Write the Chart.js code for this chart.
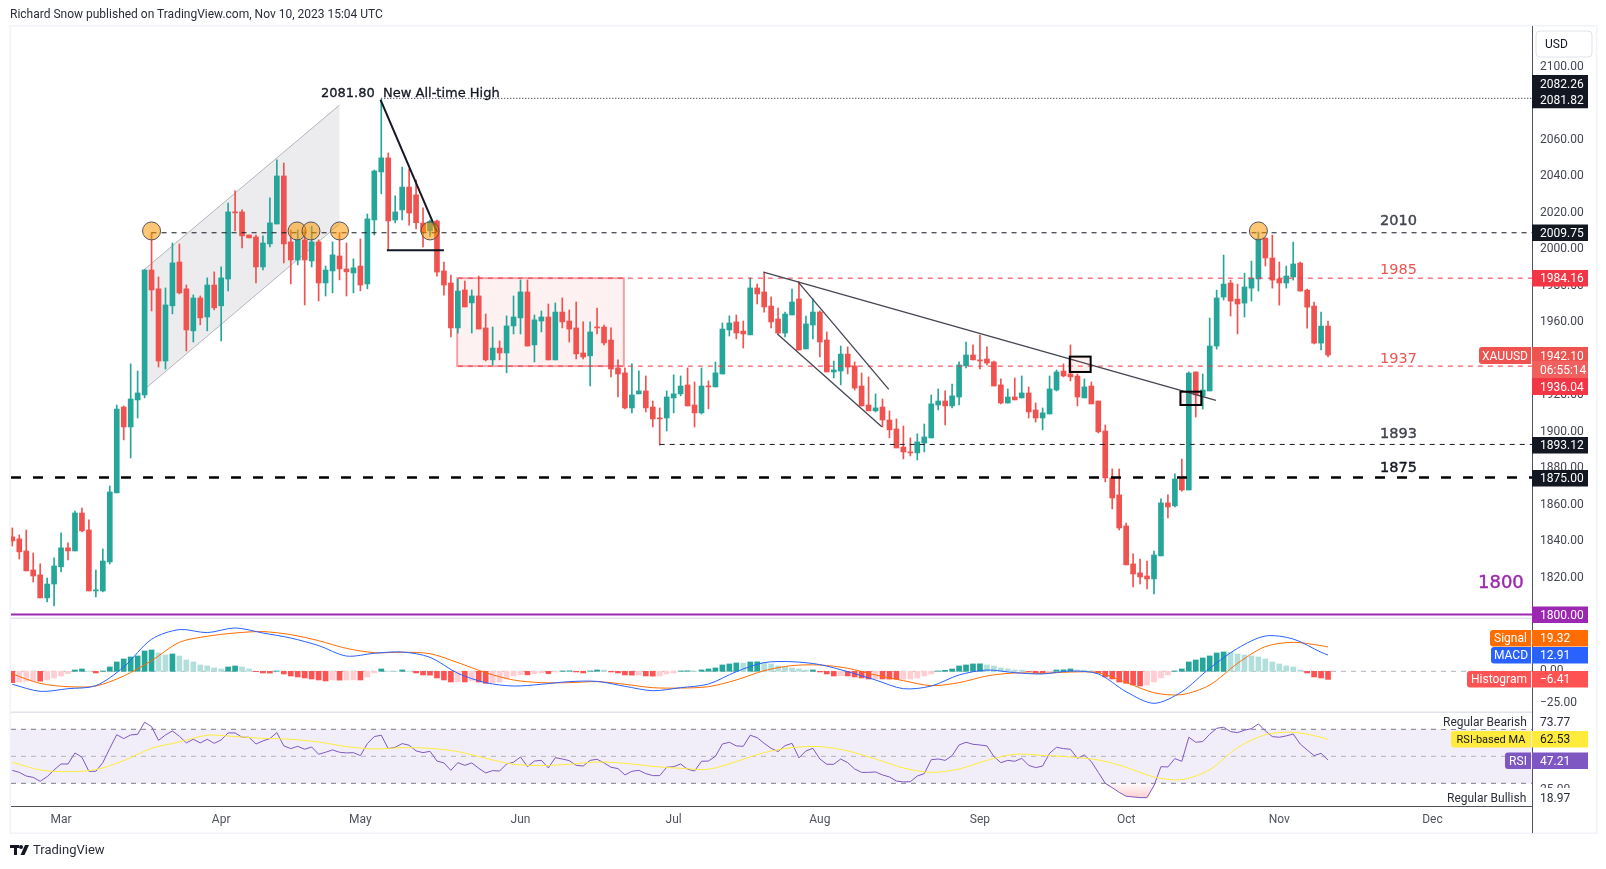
<!DOCTYPE html>
<html>
<head>
<meta charset="utf-8">
<title>XAUUSD</title>
<script src="https://cdn.jsdelivr.net/npm/chart.js@4"></script>
<style>
  html, body { margin: 0; background: #fff; }
  #wrap { position: relative; width: 1606px; height: 869px; overflow: hidden; }
  canvas { position: absolute; left: 0; top: 0; }
  #byline { position: absolute; left: 10px; top: 7px; font: 12px Roboto, sans-serif; color: #2a2e39; white-space: nowrap; }
  #brand { position: absolute; left: 33px; top: 842px; font: 13px Roboto, sans-serif; color: #2a2e39; }
</style>
</head>
<body>
<div id="wrap">
  <canvas id="chart" width="1606" height="869"></canvas>
  <div id="byline">Richard Snow published on TradingView.com, Nov 10, 2023 15:04 UTC</div>
  <div id="brand">TradingView</div>
</div>
<script>
// daily candles
const open = [
  1842.5,1841.4,1834.8,1824.4,1821.7,1809.1,1816.7,1826.1,1836.5,1834.8,
  1855.6,1846.3,1812.9,1812.9,1828.8,1866.6,1913.6,1902.7,1917.5,1920.2,
  1988.6,1978.3,1938.8,1969.0,1993.0,1978.3,1955.3,1973.3,1962.9,1980.4,
  1969.0,1983.7,2020.4,2020.4,2007.8,2006.7,1990.3,2002.9,2013.8,2040.1,
  2004.0,1994.1,2005.1,1993.6,2004.0,1981.5,1988.1,1996.3,1989.2,1987.0,
  1990.8,1981.0,2016.0,2042.3,2050.0,2016.0,2021.5,2034.0,2029.7,2014.3,
  2010.1,2015.4,1988.1,1981.5,1956.9,1977.7,1970.6,1974.4,1956.9,1939.4,
  1945.9,1943.2,1958.0,1962.4,1976.6,1947.6,1960.7,1962.9,1939.4,1965.6,
  1960.7,1956.9,1943.2,1941.6,1957.4,1957.4,1950.3,1935.0,1932.3,1913.1,
  1920.8,1922.4,1913.6,1907.6,1907.6,1918.6,1920.8,1925.7,1914.7,1910.4,
  1925.1,1924.6,1931.7,1955.8,1960.2,1955.2,1953.1,1978.8,1976.6,1968.9,
  1961.8,1954.1,1964.0,1972.8,1945.4,1958.5,1965.6,1950.3,1932.8,1933.3,
  1942.6,1936.1,1925.1,1914.7,1911.5,1913.6,1906.5,1901.6,1891.7,1889.0,
  1888.5,1893.9,1896.7,1914.7,1916.9,1914.2,1919.1,1936.1,1942.1,1939.4,
  1939.9,1938.3,1925.7,1915.8,1919.1,1918.6,1921.3,1912.0,1907.6,1909.8,
  1922.9,1933.3,1931.7,1930.6,1918.6,1925.1,1916.9,1900.5,1874.8,1865.5,
  1848.5,1827.7,1822.8,1821.1,1819.5,1832.1,1861.1,1859.5,1874.2,1868.2,
  1932.8,1919.6,1922.4,1947.0,1973.8,1981.5,1972.7,1970.5,1978.7,1983.7,
  2006.1,1995.2,1983.7,1981.5,1984.8,1992.4,1977.6,1968.9,1948.6,1957.9
];
const high = [
  1847.4,1843.6,1846.3,1833.7,1827.7,1820.0,1831.0,1844.7,1839.2,1856.7,
  1858.3,1851.8,1824.4,1835.9,1870.4,1914.7,1914.2,1937.2,1933.3,1989.0,
  2009.1,1984.8,1978.8,2003.4,2002.9,1980.4,1975.0,1974.4,1984.3,1987.6,
  1990.3,2025.3,2031.9,2021.5,2007.8,2007.8,2007.3,2028.1,2048.9,2047.2,
  2010.6,2010.6,2010.6,2012.4,2005.1,1990.8,2004.0,2009.1,2003.4,1994.7,
  2005.6,2019.3,2043.4,2082.1,2052.7,2029.2,2045.0,2043.9,2037.9,2022.6,
  2016.0,2016.0,1993.0,1985.9,1983.7,1982.6,1977.7,1985.3,1964.5,1957.4,
  1949.8,1963.5,1974.4,1983.2,1983.2,1964.0,1966.2,1970.0,1970.6,1973.3,
  1966.7,1971.1,1960.2,1960.2,1967.8,1958.5,1956.9,1939.4,1935.0,1937.2,
  1933.4,1930.6,1916.9,1913.1,1922.4,1931.2,1930.6,1935.0,1927.3,1935.0,
  1927.9,1938.3,1959.6,1963.5,1964.0,1960.7,1984.3,1981.0,1987.5,1973.9,
  1967.8,1965.6,1978.2,1982.1,1963.4,1972.8,1966.2,1954.7,1938.8,1947.0,
  1946.5,1938.3,1932.2,1930.1,1920.8,1918.0,1911.5,1907.1,1903.2,1896.7,
  1898.9,1904.3,1920.2,1923.5,1922.4,1926.2,1938.3,1949.2,1947.6,1953.0,
  1946.5,1938.8,1929.0,1923.5,1929.5,1930.6,1924.6,1915.8,1913.1,1930.6,
  1933.9,1937.2,1947.6,1931.7,1929.0,1927.3,1916.9,1903.8,1879.7,1879.7,
  1850.1,1833.2,1830.4,1829.3,1834.8,1863.3,1865.5,1877.0,1885.1,1932.8,
  1932.8,1931.7,1962.3,1977.6,1996.8,1983.1,1980.9,1986.9,1993.5,2009.4,
  2006.1,2007.7,1993.0,1990.8,2003.9,1993.0,1978.2,1971.1,1965.6,1960.7
];
const low = [
  1837.5,1830.4,1823.9,1817.8,1809.1,1806.9,1804.7,1823.3,1829.9,1834.8,
  1845.2,1812.9,1809.6,1812.4,1827.7,1866.6,1895.6,1885.7,1907.6,1918.6,
  1966.2,1935.5,1934.4,1964.6,1975.5,1944.3,1949.2,1958.6,1955.3,1966.8,
  1949.8,1977.2,2010.0,2000.7,2006.2,1981.5,1988.6,2001.2,2013.8,1992.5,
  1981.0,1991.4,1969.5,1990.3,1971.7,1974.4,1976.1,1983.2,1974.4,1976.1,
  1977.2,1978.3,2007.8,2030.3,1999.6,2014.4,2016.0,2013.2,2011.1,2001.2,
  2007.2,1985.3,1974.9,1952.0,1954.1,1968.4,1954.1,1956.3,1938.8,1936.6,
  1939.4,1932.3,1953.6,1953.6,1947.0,1938.3,1954.7,1939.4,1939.4,1956.9,
  1949.2,1939.9,1939.9,1925.1,1953.6,1947.6,1930.1,1919.1,1912.6,1910.4,
  1920.8,1910.9,1902.7,1892.7,1900.5,1910.4,1919.7,1914.2,1902.7,1909.8,
  1912.6,1924.6,1931.7,1952.5,1950.9,1945.9,1953.1,1970.0,1965.6,1956.9,
  1953.6,1952.0,1964.0,1944.8,1945.4,1950.9,1941.0,1932.8,1929.5,1925.7,
  1931.7,1922.9,1914.2,1911.5,1910.9,1902.7,1896.7,1891.2,1885.2,1886.8,
  1884.6,1889.0,1896.7,1912.0,1903.8,1913.1,1914.7,1935.0,1939.4,1934.4,
  1936.6,1925.1,1915.3,1915.8,1917.5,1918.6,1907.6,1905.4,1901.1,1909.8,
  1922.4,1930.1,1927.9,1914.2,1918.6,1915.3,1899.4,1872.6,1857.8,1846.3,
  1827.2,1815.1,1816.8,1814.0,1811.3,1832.1,1852.9,1858.9,1867.6,1868.2,
  1908.1,1912.5,1922.4,1945.3,1972.2,1963.4,1953.6,1962.9,1971.6,1977.1,
  1990.8,1978.7,1969.4,1978.7,1983.1,1977.1,1956.8,1948.1,1944.8,1941.0
];
const close = [
  1840.3,1834.3,1823.9,1821.1,1809.1,1816.7,1826.6,1836.5,1834.8,1855.6,
  1845.8,1812.9,1813.5,1829.3,1867.1,1912.5,1902.7,1918.0,1921.3,1988.6,
  1977.7,1938.8,1969.5,1992.5,1976.1,1955.8,1973.3,1962.4,1980.4,1967.9,
  1984.3,2020.4,2019.9,2007.3,2006.2,1990.3,2003.4,2014.4,2040.1,2002.9,
  1994.1,2005.1,1994.1,2004.0,1981.5,1988.6,1996.9,1989.2,1987.6,1989.8,
  1980.4,2016.6,2042.8,2050.0,2015.5,2020.4,2034.0,2019.8,2014.5,2009.4,
  2015.1,1987.5,1980.4,1956.9,1977.1,1968.4,1974.4,1956.3,1939.4,1945.9,
  1943.2,1958.0,1962.9,1976.6,1947.0,1961.3,1962.9,1939.4,1965.6,1960.2,
  1956.3,1942.7,1941.0,1954.7,1956.9,1948.7,1934.4,1931.7,1913.1,1920.2,
  1922.4,1913.1,1907.1,1907.1,1919.1,1920.8,1925.1,1914.2,1910.4,1925.1,
  1924.6,1932.3,1956.3,1959.6,1954.1,1953.6,1978.8,1975.5,1968.4,1960.2,
  1954.1,1964.5,1971.1,1944.8,1959.1,1965.6,1949.2,1932.8,1933.9,1942.6,
  1935.5,1924.0,1914.2,1911.5,1913.1,1906.5,1901.1,1891.2,1889.0,1888.5,
  1894.5,1897.2,1915.3,1916.9,1914.2,1919.7,1936.6,1942.1,1939.4,1938.8,
  1937.7,1925.1,1915.8,1919.1,1917.5,1921.3,1910.9,1907.6,1910.4,1923.5,
  1932.8,1930.6,1930.1,1919.1,1924.6,1915.3,1900.0,1874.8,1863.8,1847.4,
  1827.2,1822.2,1820.6,1819.5,1832.6,1861.1,1858.9,1874.2,1868.2,1932.2,
  1920.2,1922.9,1947.0,1973.3,1980.9,1971.6,1970.0,1979.3,1984.2,2005.6,
  1995.2,1983.1,1981.5,1985.3,1991.9,1977.1,1968.3,1948.6,1957.9,1942.1
];

const histogram = [
  -9.00,-8.47,-7.94,-7.67,-7.81,-6.88,-5.29,-3.70,-1.85,1.06,
  1.85,0.13,-1.32,0.26,3.44,7.41,9.79,11.38,12.17,16.14,
  16.93,14.55,12.97,13.76,12.17,9.00,7.41,5.03,4.23,2.65,
  1.85,3.44,4.23,3.44,1.85,-0.26,-1.32,-1.46,0.26,-2.12,
  -3.70,-4.50,-5.29,-6.09,-6.88,-7.67,-6.88,-7.01,-6.88,-6.83,
  -6.88,-4.50,-1.32,1.85,0.13,0.08,1.06,0.13,-1.32,-2.91,
  -3.04,-5.29,-6.88,-8.47,-8.33,-8.47,-7.67,-8.47,-9.53,-9.26,
  -8.47,-6.09,-3.70,-2.65,-2.78,-1.85,-1.32,-1.85,-0.53,0.26,
  0.40,-0.53,-1.32,0.26,1.06,0.93,-0.53,-1.32,-2.91,-3.04,
  -2.91,-3.70,-3.84,-3.70,-2.12,-1.32,0.26,0.40,0.13,1.06,
  1.85,2.65,5.03,5.82,6.62,6.48,7.41,7.54,6.62,5.82,
  4.23,3.44,2.65,1.85,0.93,1.06,-0.53,-2.12,-3.70,-3.57,
  -3.70,-4.50,-5.29,-6.09,-5.95,-6.09,-6.22,-6.35,-6.22,-6.09,
  -5.29,-3.70,-2.12,0.26,0.79,1.85,4.23,5.03,5.82,5.95,
  5.03,4.23,2.65,1.85,1.06,0.93,-0.26,-1.32,-1.46,-1.06,
  1.06,1.19,1.85,1.06,0.93,0.26,-1.32,-4.50,-6.09,-8.47,
  -9.53,-10.85,-11.64,-10.85,-8.47,-5.29,-2.91,0.26,1.85,7.41,
  9.00,10.58,12.17,14.55,15.35,15.08,13.76,12.97,12.17,11.38,
  9.79,7.41,5.82,4.23,3.44,1.06,-1.32,-4.50,-5.29,-6.41
];

// the smooth lines are read every fourth candle
const lineDays = [
  0,4,8,12,16,20,24,28,32,36,40,44,48,52,56,60,64,68,72,76,80,84,88,92,96,
  100,104,108,112,116,120,124,128,132,136,140,144,148,152,156,160,164,168,172,176,180,184,188,189
];
const macdLine = [
  -10.3,-15.9,-13.8,-11.4,3.4,25.4,33.1,30.7,34.4,30.4,26.4,20.4,12.1,14.3,15.3,11.1,-1.6,-9.0,-11.7,-10.3,
  -8.2,-8.0,-11.9,-15.4,-13.0,-10.1,-0.3,6.9,7.6,5.3,-0.3,-6.9,-13.8,-11.7,-2.9,1.0,-1.1,-2.1,0.2,-2.1,
  -16.2,-25.4,-16.2,2.4,18.2,28.0,25.6,15.1,12.9
];
const signalLine = [
  -2.1,-9.6,-12.2,-11.7,-3.7,8.4,23.0,27.8,30.4,31.5,29.1,24.3,18.2,14.8,15.1,14.0,6.9,-1.1,-6.9,-9.0,
  -9.0,-8.2,-10.3,-13.0,-13.3,-12.2,-6.9,0.5,4.5,5.0,2.4,-2.9,-7.4,-11.4,-9.0,-3.7,-1.3,-1.6,-0.6,-1.1,
  -8.8,-17.0,-18.5,-10.9,6.3,19.6,23.0,20.4,19.3
];
const rsiAverage = [
  45.6,39.9,38.6,40.1,46.8,55.9,60.6,65.6,64.6,63.3,62.6,60.6,57.2,55.4,56.4,55.9,53.5,48.5,44.1,43.1,
  44.1,45.8,44.8,42.6,41.1,40.4,46.1,52.7,56.4,57.2,54.0,48.0,41.4,38.1,40.6,47.0,51.5,50.7,49.5,47.3,
  41.9,34.7,32.7,40.1,56.4,66.0,67.8,64.1,62.5
];
const rsi = [
  39.6,38.1,35.4,34.4,31.5,34.9,39.9,44.3,44.3,52.5,
  49.3,38.9,38.9,45.3,55.9,66.0,63.1,65.8,66.3,75.2,
  72.0,61.8,65.8,68.8,64.8,59.9,62.6,59.9,62.6,59.6,
  62.1,67.3,67.3,64.1,64.1,59.1,61.4,63.1,67.5,57.7,
  55.7,57.4,55.2,56.9,51.5,53.0,54.7,53.0,52.5,52.7,
  50.5,59.4,64.6,65.6,55.7,56.7,59.4,58.2,54.0,52.7,
  53.7,46.5,45.1,39.6,45.3,43.3,45.1,41.1,37.7,39.4,
  39.1,44.3,45.6,49.5,42.3,46.5,47.0,41.4,49.0,48.0,
  46.8,43.3,42.8,47.0,47.8,45.1,41.9,40.9,36.2,38.9,
  39.6,37.2,35.7,35.7,41.9,42.3,44.3,40.4,39.1,46.3,
  46.5,50.0,59.1,60.4,57.7,57.4,65.6,63.8,59.6,55.9,
  53.5,57.9,59.6,48.8,54.0,55.9,48.0,44.1,44.1,48.0,
  45.3,40.6,38.1,38.1,38.4,36.2,34.7,31.7,31.0,31.2,
  35.4,37.2,47.5,48.0,47.0,50.5,58.4,60.4,58.9,58.4,
  57.7,49.8,45.3,47.0,46.3,48.5,43.3,41.6,42.8,52.2,
  56.7,55.7,55.2,48.5,51.0,46.1,38.1,30.0,26.8,23.3,
  20.4,19.9,19.4,19.4,28.3,42.3,42.1,48.3,46.3,64.1,
  60.4,60.9,66.3,70.7,71.5,68.3,67.5,69.3,70.5,74.0,
  68.8,64.6,64.1,65.1,66.5,59.1,54.7,50.5,52.2,47.2
];

const priceTicks = [2100,2060,2040,2020,2000,1980,1960,1940,1920,1900,1880,1860,1840,1820];
const macdTicks = [0,-25];
const rsiTicks = [25];
const monthDays = [7,30,50,73,95,116,139,160,182,204];
const monthNames = ['Mar','Apr','May','Jun','Jul','Aug','Sep','Oct','Nov','Dec'];

// drawings on the price pane: candle position and price
const upTrend = { from: [19, 1989.0], to: [47, 2078.9] };
const lowTrend = { from: [19, 1923.3], to: [47, 2013.8] };
const boxRange = { days: [63.9, 87.85], prices: [1984.16, 1936] };
const breakBoxes = [
  { days: [151.9, 154.9], prices: [1941.2, 1932.8] },
  { days: [167.8, 170.8], prices: [1922.0, 1914.7] }
];
const thinLines = [
  { from: [107.9, 1987.4], to: [172.9, 1917.3] },
  { from: [112.9, 1982.0], to: [125.9, 1923.3] },
  { from: [109.9, 1953.6], to: [124.9, 1902.8] }
];
const thickLines = [
  { from: [52.9, 2081.8], to: [61, 2009.5] },
  { from: [53.8, 1999.4], to: [62, 1999.4] }
];
const touchDays = [20, 40.9, 42.9, 47, 60, 179];
const touchPrice = 2010;
const levels = [
  { from: 20, price: 2009.0, color: '#131722', width: 1, dash: [5, 5] },
  { from: 64, price: 1984.16, color: '#f23645', width: 1, dash: [5, 5] },
  { from: 64, price: 1936, color: '#f23645', width: 1, dash: [5, 5] },
  { from: 93, price: 1893.12, color: '#131722', width: 1, dash: [5, 5] },
  { from: -0.19, price: 1875, color: '#000', width: 2.5, dash: [10, 12] },
  { from: -0.19, price: 1800, color: '#9c27b0', width: 2, dash: [] },
  { from: 53, price: 2082.6, color: '#131722', width: 1, dash: [1, 2] }
];

const UP = '#26a69a', DOWN = '#ef5350';
const AXIS_X = 1532;
const days = open.map((_, i) => i);
const candleColor = days.map(i => close[i] >= open[i] ? UP : DOWN);
const histColor = histogram.map((h, i) => {
  const prev = i ? histogram[i - 1] : h;
  if (h >= 0) return h > prev ? '#26a69a' : '#b2dfdb';
  return h <= prev ? '#ff5252' : '#ffcdd2';
});
const TICK_FONT = { family: 'Roboto', size: 12 };

function tag(ctx, text, x, y, w, h, bg, fg, corners) {
  ctx.fillStyle = bg;
  ctx.beginPath();
  ctx.roundRect(x, y - h / 2, w, h, corners || 0);
  ctx.fill();
  ctx.fillStyle = fg;
  ctx.textBaseline = 'middle';
  if (corners) {
    ctx.textAlign = 'center';
    ctx.fillText(text, x + w / 2, y + 1);
  } else {
    ctx.textAlign = 'left';
    ctx.fillText(text, x + 8, y + 1);
  }
}

function say(ctx, text, x, y, font, color, bolder) {
  ctx.font = font;
  ctx.textAlign = 'left';
  ctx.textBaseline = 'middle';
  ctx.fillStyle = color;
  ctx.fillText(text, x, y);
  if (bolder) {
    ctx.strokeStyle = color;
    ctx.lineWidth = bolder;
    ctx.setLineDash([]);
    ctx.strokeText(text, x, y);
  }
}

const drawings = {
  id: 'drawings',
  beforeDatasetsDraw(chart) {
    const { ctx, scales } = chart;
    const px = d => scales.x.getPixelForValue(d);
    const py = p => scales.y.getPixelForValue(p);
    ctx.save();

    // rising channel
    ctx.fillStyle = 'rgba(120,123,134,0.14)';
    ctx.beginPath();
    ctx.moveTo(px(upTrend.from[0]), py(upTrend.from[1]));
    ctx.lineTo(px(upTrend.to[0]), py(upTrend.to[1]));
    ctx.lineTo(px(lowTrend.to[0]), py(lowTrend.to[1]));
    ctx.lineTo(px(lowTrend.from[0]), py(lowTrend.from[1]));
    ctx.closePath();
    ctx.fill();
    ctx.strokeStyle = '#b2b5be';
    ctx.lineWidth = 1;
    [upTrend, lowTrend].forEach(l => {
      ctx.beginPath();
      ctx.moveTo(px(l.from[0]), py(l.from[1]));
      ctx.lineTo(px(l.to[0]), py(l.to[1]));
      ctx.stroke();
    });

    // consolidation box
    const bx = px(boxRange.days[0]), bw = px(boxRange.days[1]) - bx;
    const by = py(boxRange.prices[0]), bh = py(boxRange.prices[1]) - by;
    ctx.fillStyle = 'rgba(242,54,69,0.07)';
    ctx.fillRect(bx, by, bw, bh);
    ctx.strokeStyle = 'rgba(242,54,69,0.45)';
    ctx.lineWidth = 2;
    ctx.strokeRect(bx, by, bw, bh);

    // macd zero line
    const y0 = scales.macd.getPixelForValue(0);
    ctx.strokeStyle = '#b2b5be';
    ctx.lineWidth = 1;
    ctx.setLineDash([5, 5]);
    ctx.beginPath();
    ctx.moveTo(11, y0);
    ctx.lineTo(AXIS_X, y0);
    ctx.stroke();

    // rsi band
    const y70 = scales.rsi.getPixelForValue(70), y50 = scales.rsi.getPixelForValue(50), y30 = scales.rsi.getPixelForValue(30);
    ctx.setLineDash([]);
    ctx.fillStyle = 'rgba(126,87,194,0.1)';
    ctx.fillRect(11, y70, AXIS_X - 11, y30 - y70);
    ctx.setLineDash([5, 5]);
    ctx.strokeStyle = '#787b86';
    [y70, y30].forEach(y => {
      ctx.beginPath();
      ctx.moveTo(11, y);
      ctx.lineTo(AXIS_X, y);
      ctx.stroke();
    });
    ctx.strokeStyle = 'rgba(120,123,134,0.5)';
    ctx.beginPath();
    ctx.moveTo(11, y50);
    ctx.lineTo(AXIS_X, y50);
    ctx.stroke();
    ctx.restore();
  },
  afterDatasetsDraw(chart) {
    const { ctx, scales } = chart;
    const px = d => scales.x.getPixelForValue(d);
    const py = p => scales.y.getPixelForValue(p);
    ctx.save();

    // horizontal levels
    levels.forEach(l => {
      ctx.strokeStyle = l.color;
      ctx.lineWidth = l.width;
      ctx.setLineDash(l.dash);
      ctx.beginPath();
      ctx.moveTo(px(l.from), py(l.price));
      ctx.lineTo(AXIS_X, py(l.price));
      ctx.stroke();
    });
    ctx.setLineDash([]);

    // trend lines
    ctx.strokeStyle = '#434651';
    ctx.lineWidth = 1.3;
    thinLines.forEach(l => {
      ctx.beginPath();
      ctx.moveTo(px(l.from[0]), py(l.from[1]));
      ctx.lineTo(px(l.to[0]), py(l.to[1]));
      ctx.stroke();
    });
    ctx.strokeStyle = '#131722';
    ctx.lineWidth = 2;
    thickLines.forEach(l => {
      ctx.beginPath();
      ctx.moveTo(px(l.from[0]), py(l.from[1]));
      ctx.lineTo(px(l.to[0]), py(l.to[1]));
      ctx.stroke();
    });

    // break boxes
    breakBoxes.forEach(b => {
      const x = px(b.days[0]), w = px(b.days[1]) - x, y = py(b.prices[0]), h = py(b.prices[1]) - y;
      ctx.fillStyle = 'rgba(242,54,69,0.08)';
      ctx.fillRect(x, y, w, h);
      ctx.strokeStyle = '#000';
      ctx.lineWidth = 2;
      ctx.strokeRect(x, y, w, h);
    });

    // touches of 2010
    touchDays.forEach(d => {
      ctx.beginPath();
      ctx.arc(px(d), py(touchPrice), 9, 0, Math.PI * 2);
      ctx.fillStyle = 'rgba(255,152,0,0.55)';
      ctx.fill();
      ctx.strokeStyle = '#50535e';
      ctx.lineWidth = 1;
      ctx.stroke();
    });

    // pane separators and frame
    ctx.fillStyle = '#e0e3eb';
    ctx.fillRect(11, 617.5, AXIS_X - 11, 1.5);
    ctx.fillRect(11, 711.5, AXIS_X - 11, 1.5);
    ctx.fillStyle = '#f0f3fa';
    ctx.fillRect(9.5, 25, 1.5, 809);
    ctx.fillRect(9.5, 832.5, 1588, 1.5);
    ctx.fillRect(9.5, 25, 1588, 1.5);
    ctx.fillRect(1596, 25, 1.5, 809);
    ctx.fillStyle = '#50535e';
    ctx.fillRect(11, 806, AXIS_X - 11, 1);
    ctx.fillRect(AXIS_X, 26, 1, 807);

    // notes on the chart
    const note = '14.5px "DejaVu Sans"';
    say(ctx, '2081.80  New All-time High', 321, 94, '13px "DejaVu Sans"', '#131722', 0.3);
    say(ctx, '2010', 1380, 221.5, note, '#434651', 0.4);
    say(ctx, '1985', 1380, 270.5, note, '#ef5350');
    say(ctx, '1937', 1380, 359.5, note, '#ef5350');
    say(ctx, '1893', 1380, 434, note, '#434651', 0.4);
    say(ctx, '1875', 1380, 468.5, note, '#131722', 0.4);
    say(ctx, '1800', 1478, 583, '18px "DejaVu Sans"', '#9c27b0', 0.4);

    // cover under the indicator side labels
    ctx.fillStyle = '#fff';
    ctx.fillRect(1440, 713, 92, 16);
    ctx.fillRect(1533, 788, 62, 17);

    // axis tags
    ctx.font = '12px Roboto';
    const VW = 56, VH = 16.5;
    const dark = '#131722';
    ctx.fillStyle = dark;
    ctx.fillRect(AXIS_X, 75, VW, 33);
    tag(ctx, '2082.26', AXIS_X, 84, VW, VH, dark, '#fff');
    tag(ctx, '2081.82', AXIS_X, 100, VW, VH, dark, '#fff');
    tag(ctx, '2009.75', AXIS_X, 232.7, VW, VH, dark, '#fff');
    tag(ctx, '1984.16', AXIS_X, 278.3, VW, VH, '#f23645', '#fff');
    tag(ctx, 'XAUUSD', 1479, 355.5, 52, 17, '#ef5350', '#fff', [3, 0, 0, 3]);
    tag(ctx, '1942.10', AXIS_X, 355.5, VW, 17, '#ef5350', '#fff');
    tag(ctx, '06:55:14', AXIS_X, 369.5, VW, 17, '#f0605e', '#fff');
    tag(ctx, '1936.04', AXIS_X, 386.5, VW, 17, '#f23645', '#fff');
    tag(ctx, '1893.12', AXIS_X, 445.3, VW, VH, dark, '#fff');
    tag(ctx, '1875.00', AXIS_X, 478.3, VW, VH, dark, '#fff');
    tag(ctx, '1800.00', AXIS_X, 614.7, VW, VH, '#9c27b0', '#fff');

    tag(ctx, 'Signal', 1490, 638.3, 41, 16.5, '#ff6d00', '#fff', [3, 0, 0, 3]);
    tag(ctx, '19.32', AXIS_X, 638.3, VW, 16.5, '#ff6d00', '#fff');
    tag(ctx, 'MACD', 1491, 655.3, 40, 16.5, '#2962ff', '#fff', [3, 0, 0, 3]);
    tag(ctx, '12.91', AXIS_X, 655.3, VW, 16.5, '#2962ff', '#fff');
    tag(ctx, 'Histogram', 1467, 679.3, 64, 16.5, '#ff5252', '#fff', [3, 0, 0, 3]);
    tag(ctx, '\u22126.41', AXIS_X, 679.3, VW, 16.5, '#ff5252', '#fff');

    say(ctx, 'Regular Bearish', 1443, 722.5, '12px Roboto', '#2a2e39');
    say(ctx, '73.77', 1540, 722.5, '12px Roboto', '#2a2e39');
    ctx.font = '11px Roboto';
    tag(ctx, 'RSI-based MA', 1451, 739.3, 80, 16.5, '#ffeb3b', '#131722', [3, 0, 0, 3]);
    ctx.font = '12px Roboto';
    tag(ctx, '62.53', AXIS_X, 739.3, VW, 16.5, '#ffeb3b', '#131722');
    tag(ctx, 'RSI', 1505, 760.7, 26, 16.5, '#7e57c2', '#fff', [3, 0, 0, 3]);
    tag(ctx, '47.21', AXIS_X, 760.7, VW, 16.5, '#7e57c2', '#fff');
    say(ctx, 'Regular Bullish', 1447, 798.5, '12px Roboto', '#2a2e39');
    say(ctx, '18.97', 1540, 798.5, '12px Roboto', '#2a2e39');

    // currency button
    ctx.strokeStyle = '#e0e3eb';
    ctx.lineWidth = 1;
    ctx.beginPath();
    ctx.roundRect(1536, 31, 56, 26, 4);
    ctx.stroke();
    say(ctx, 'USD', 1545, 45, '12px Roboto', '#131722');

    // brand mark
    ctx.fillStyle = '#131722';
    ctx.fillRect(10, 845, 9, 3);
    ctx.fillRect(14, 845, 3, 10);
    ctx.beginPath();
    ctx.arc(21, 847, 2, 0, Math.PI * 2);
    ctx.fill();
    ctx.beginPath();
    ctx.moveTo(25, 845);
    ctx.lineTo(29, 845);
    ctx.lineTo(24.5, 855);
    ctx.lineTo(20.5, 855);
    ctx.closePath();
    ctx.fill();
    ctx.restore();
  }
};

const plotCtx = document.getElementById('chart').getContext('2d');
const oversoldFill = plotCtx.createLinearGradient(0, 783, 0, 802);
oversoldFill.addColorStop(0, 'rgba(242,54,69,0.02)');
oversoldFill.addColorStop(1, 'rgba(242,54,69,0.3)');

function lineSet(values, color, axis, xs) {
  return {
    type: 'line',
    data: values.map((v, i) => ({ x: xs[i], y: v })),
    yAxisID: axis,
    borderColor: color,
    borderWidth: 1,
    pointRadius: 0,
    tension: xs === days ? 0 : 0.3,
    fill: false,
    order: 0
  };
}

new Chart(plotCtx, {
  type: 'bar',
  data: {
    datasets: [
      {
        label: 'wick',
        data: days.map(i => ({ x: i, y: [low[i], high[i]] })),
        yAxisID: 'y',
        backgroundColor: candleColor,
        barThickness: 1,
        grouped: false,
        order: 3
      },
      {
        label: 'body',
        data: days.map(i => ({ x: i, y: [Math.min(open[i], close[i]), Math.max(open[i], close[i])] })),
        yAxisID: 'y',
        backgroundColor: candleColor,
        barThickness: 5,
        minBarLength: 1,
        grouped: false,
        order: 2
      },
      {
        label: 'Histogram',
        data: days.map(i => ({ x: i, y: histogram[i] })),
        yAxisID: 'macd',
        backgroundColor: histColor,
        barThickness: 5,
        grouped: false,
        order: 2
      },
      lineSet(macdLine, '#2962ff', 'macd', lineDays),
      lineSet(signalLine, '#ff6d00', 'macd', lineDays),
      {
        type: 'line',
        data: days.filter(i => rsi[i] <= 30).map(i => ({ x: i, y: rsi[i] })),
        yAxisID: 'rsi',
        borderWidth: 0,
        pointRadius: 0,
        backgroundColor: oversoldFill,
        fill: { value: 30 },
        order: 1
      },
      lineSet(rsiAverage, '#ffeb3b', 'rsi', lineDays),
      lineSet(rsi, '#7e57c2', 'rsi', days)
    ]
  },
  options: {
    responsive: false,
    animation: false,
    devicePixelRatio: 1,
    layout: { padding: { left: 11, right: 18, top: 26, bottom: 36 } },
    plugins: { legend: { display: false }, tooltip: { enabled: false } },
    scales: {
      x: {
        type: 'linear',
        offset: false,
        min: -0.19,
        max: 218.3,
        grid: { display: false, drawTicks: false, offset: false },
        border: { display: false },
        afterBuildTicks: s => { s.ticks = monthDays.map(v => ({ value: v })); },
        afterFit: s => { s.height = 27; },
        ticks: {
          autoSkip: false,
          maxRotation: 0,
          padding: 7,
          color: '#50535e',
          font: TICK_FONT,
          callback: v => monthNames[monthDays.indexOf(v)]
        }
      },
      y: {
        position: 'right',
        stack: 'panes',
        stackWeight: 592,
        min: 1798.1,
        max: 2122.2,
        grid: { display: false, drawTicks: false },
        border: { display: false },
        afterBuildTicks: s => { s.ticks = priceTicks.map(v => ({ value: v })); },
        afterFit: s => { s.width = 56; },
        ticks: { padding: 8, color: '#434651', font: TICK_FONT, autoSkip: false, callback: v => v.toFixed(2) }
      },
      macd: {
        position: 'right',
        stack: 'panes',
        stackWeight: 94,
        min: -32.3,
        max: 42.3,
        grid: { display: false, drawTicks: false },
        border: { display: false },
        afterBuildTicks: s => { s.ticks = macdTicks.map(v => ({ value: v })); },
        afterFit: s => { s.width = 56; },
        ticks: { padding: 8, color: '#434651', font: TICK_FONT, autoSkip: false, callback: v => v.toFixed(2).replace('-', '\u2212') }
      },
      rsi: {
        position: 'right',
        stack: 'panes',
        stackWeight: 94,
        min: 13.2,
        max: 82.8,
        grid: { display: false, drawTicks: false },
        border: { display: false },
        afterBuildTicks: s => { s.ticks = rsiTicks.map(v => ({ value: v })); },
        afterFit: s => { s.width = 56; },
        ticks: { padding: 8, color: '#434651', font: TICK_FONT, autoSkip: false, callback: v => v.toFixed(2) }
      }
    }
  },
  plugins: [drawings]
});
</script>
</body>
</html>
